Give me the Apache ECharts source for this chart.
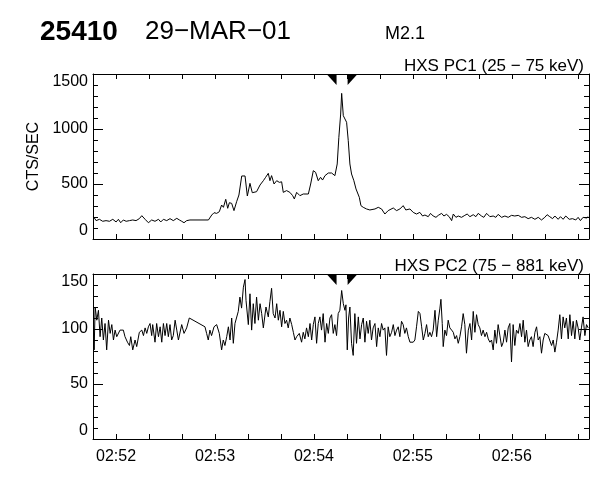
<!DOCTYPE html>
<html>
<head>
<meta charset="utf-8">
<script src="https://cdn.jsdelivr.net/npm/echarts@6/dist/echarts.min.js"></script>
<style>
html,body{margin:0;padding:0;background:#fff;}
#chart{width:600px;height:480px;}
</style>
</head>
<body>
<div id="chart"></div>
<script>
// Time values are seconds after 02:52:00 UT
const timePC1 = [-13.7,-12.1,-10.1,-8.1,-6.1,-4.0,-2.0,0,1.4,2.8,4.4,6.1,8.1,10.1,12.1,14.1,15.6,17.6,19.6,21.6,23.6,25.7,27.1,28.7,30.7,32.7,34.7,36.8,38.4,39.8,41.2,42.8,44.8,56.0,56.6,58.0,59.4,61.0,62.6,64.0,65.1,66.5,67.7,68.7,70.1,71.5,73.1,74.5,76.2,78.2,79.6,81.2,82.6,85.2,87.3,89.3,90.7,92.3,93.3,94.3,95.8,97.4,99.0,100.4,101.4,103.4,105.4,107.1,108.1,109.5,111.5,113.5,116.6,118.0,119.6,121.0,122.6,124.0,125.2,126.7,128.7,130.7,132.7,134.1,135.1,136.2,136.8,137.8,138.8,139.8,140.8,141.8,142.8,144.2,145.5,146.5,147.5,148.5,149.9,151.9,153.9,157.0,159.0,161.0,163.0,165.0,168.1,170.1,172.1,174.1,175.7,178.2,180.2,182.2,184.2,185.9,187.3,189.3,190.7,192.3,194.0,195.4,197.4,198.8,200.4,202.0,203.5,204.5,206.1,207.5,209.5,211.5,212.9,214.6,216.6,218.2,219.6,221.6,223.0,224.7,226.7,228.7,230.3,231.7,233.8,235.8,237.8,239.8,241.8,243.9,245.9,247.9,249.9,251.9,254.0,256.0,258.0,260.0,261.4,263.0,264.7,266.1,268.1,269.5,271.1,272.7,274.8,276.8,278.8,280.2,281.6,283.2,285.3,286.3];
const countsPC1 = [203,167,179,161,167,161,179,155,179,148,173,161,167,173,167,185,212,179,148,173,161,179,155,179,167,185,167,188,173,161,148,167,173,173,155,218,239,233,248,309,288,361,279,330,324,258,339,400,573,573,391,506,421,430,491,530,561,597,530,576,500,530,515,520,424,440,424,394,364,424,394,409,409,500,621,606,530,561,536,576,600,600,576,682,924,1136,1324,1121,1091,1061,894,682,591,530,455,470,379,303,288,273,264,273,288,273,227,258,282,258,273,303,264,273,242,227,242,209,218,203,233,209,197,215,233,209,224,203,167,227,197,209,197,215,227,203,221,203,233,209,197,233,203,209,197,224,197,209,197,215,209,215,197,203,185,197,179,197,173,197,221,203,185,209,179,203,179,209,179,185,173,197,167,197,191,203];

const timePC2 = [-13.7,-13.3,-12.7,-11.7,-10.7,-9.7,-8.7,-7.7,-6.7,-5.7,-4.6,-3.6,-2.6,-1.6,-0.6,0.4,2.4,4.4,5.4,6.9,8.1,8.9,10.1,11.5,12.5,14.1,15.6,16.6,17.6,18.6,19.6,20.6,21.6,22.2,23.6,24.6,25.7,26.7,27.7,28.7,29.7,30.7,31.7,32.7,33.7,34.7,35.8,36.8,37.8,38.8,39.8,41.2,42.8,44.4,53.9,54.9,55.9,56.9,57.9,59.4,61.0,62.6,64.0,65.0,66.0,67.1,68.1,69.1,70.1,71.1,72.1,73.1,74.1,75.1,76.1,77.2,78.2,78.8,80.2,81.2,82.2,83.2,84.2,85.2,86.3,87.3,88.3,89.3,90.9,92.3,93.3,94.3,95.3,96.4,97.4,98.4,99.4,100.4,101.4,102.4,103.4,104.4,105.4,106.5,107.5,108.5,109.5,111.1,112.5,113.5,114.5,115.5,116.6,117.6,118.6,119.6,120.6,121.6,122.6,123.6,124.6,125.6,126.7,127.7,128.7,129.7,130.7,131.7,132.7,133.7,134.7,135.7,136.8,137.8,138.8,139.4,140.2,141.0,141.8,142.8,143.8,144.8,145.8,146.9,147.9,148.9,149.9,150.9,151.9,152.9,153.9,154.9,155.9,157.0,158.0,159.0,160.0,161.0,162.0,163.0,164.0,165.0,166.0,167.1,168.1,169.1,170.1,171.1,172.1,173.1,174.1,175.1,176.1,177.2,178.2,179.2,180.2,181.2,182.2,183.3,184.3,185.3,186.3,187.3,188.3,189.3,190.3,191.3,192.3,193.4,194.4,195.4,196.4,197.0,197.8,198.4,199.4,200.4,201.4,202.4,203.5,204.5,205.5,206.5,207.5,208.5,209.5,210.5,211.5,212.5,213.6,214.6,215.6,216.6,217.6,218.6,219.6,220.6,221.6,222.6,223.7,224.7,225.7,226.7,227.7,228.7,229.7,230.7,231.7,232.7,233.8,234.8,235.8,236.8,237.8,238.8,239.8,240.8,241.8,242.8,243.9,244.9,245.9,246.9,247.9,248.9,249.9,250.9,251.9,252.9,254.0,255.0,256.0,257.0,258.0,259.0,260.0,261.0,262.0,263.0,264.1,265.1,266.1,267.1,268.1,269.1,270.1,271.1,272.1,273.1,274.2,275.2,276.2,277.2,278.2,279.2,280.2,281.2,282.2,283.2,284.3,285.3,286.3];
const countsPC2 = [99,81,120,108,117,93,110,90,105,81,108,96,104,90,99,93,99,99,93,88,85,93,81,90,84,97,99,94,101,96,102,105,94,104,88,105,93,102,88,105,94,105,93,104,90,94,108,99,90,90,104,96,101,110,102,96,90,99,94,102,104,96,81,90,85,93,102,90,110,87,105,104,116,129,119,138,145,126,104,132,99,123,105,129,108,123,114,101,120,111,125,137,114,110,123,108,117,102,116,105,108,101,110,104,97,90,93,96,88,97,91,101,93,105,90,104,111,87,105,111,99,114,88,105,96,110,113,96,104,94,114,117,135,123,117,122,81,110,120,87,76,114,87,111,91,104,110,88,107,96,108,90,101,105,84,101,93,105,99,101,76,102,93,97,104,94,99,102,93,107,104,96,101,93,88,87,88,90,102,116,114,102,90,96,104,93,97,93,99,117,93,108,119,127,105,84,99,94,108,101,99,97,91,94,87,93,102,114,104,78,99,105,90,116,97,113,104,101,94,99,93,97,91,88,90,81,99,87,104,105,84,88,99,88,101,105,70,104,85,99,96,105,93,108,88,99,84,90,93,84,97,102,90,93,78,90,96,96,94,93,85,90,79,88,99,113,91,111,101,110,91,113,94,107,91,108,101,90,101,111,94,104,101];

// Interval markers (seconds after 02:52:00)
const markerTimes = [133.7, 140.4];

// Axis ticks
const xTickSeconds = [0,20,40,60,80,100,120,140,160,180,200,220,240,260,280];
const xLabelSeconds = [0,60,120,180,240];
const xRange = [-14, 286.8];
const pc1Range = [0, 1500];
const pc2Range = [0, 150];

const headerId = '25410';
const headerDate = '29\u2212MAR\u221201';
const headerClass = 'M2.1';
const pc1Title = 'HXS PC1 (25 \u2212 75 keV)';
const pc2Title = 'HXS PC2 (75 \u2212 881 keV)';
const yName = 'CTS/SEC';

const BASE_SEC = 2 * 3600 + 52 * 60;
const FONT = 'Liberation Sans, Arial, sans-serif';

function fmtTime(v) {
  const s = Math.round(BASE_SEC + v);
  const h = Math.floor(s / 3600), m = Math.floor((s % 3600) / 60);
  return String(h).padStart(2, '0') + ':' + String(m).padStart(2, '0');
}
function zip(t, v) { return t.map((x, i) => [x, v[i]]); }

const grids = [
  { left: 93, right: 11, top: 74, height: 165 },
  { left: 93, right: 11, top: 274, height: 165 }
];

function xAxisFor(g, pos, showLabels) {
  return {
    type: 'value', gridIndex: g, position: pos, min: xRange[0], max: xRange[1],
    axisLine: { show: true, onZero: false, lineStyle: { color: '#000', width: 1 } },
    axisTick: { show: true, inside: true, length: 5, customValues: xTickSeconds, lineStyle: { color: '#000' } },
    axisLabel: { show: showLabels, customValues: xLabelSeconds, formatter: fmtTime, color: '#000', fontFamily: FONT, fontSize: 16, margin: 10 },
    splitLine: { show: false }, minorTick: { show: false }
  };
}
function yAxisFor(g, pos, range, interval, showLabels, name) {
  return {
    type: 'value', gridIndex: g, position: pos, min: range[0], max: range[1], interval: interval,
    name: name || '', nameLocation: 'middle', nameGap: 45, nameRotate: 90,
    nameTextStyle: { color: '#000', fontFamily: FONT, fontSize: 16 },
    axisLine: { show: true, onZero: false, lineStyle: { color: '#000', width: 1 } },
    axisTick: { show: true, inside: true, length: 10, lineStyle: { color: '#000' } },
    minorTick: { show: true, splitNumber: 5, length: 5, lineStyle: { color: '#000' } },
    axisLabel: { show: showLabels, formatter: v => String(v), color: '#000', fontFamily: FONT, fontSize: 16, margin: 5,
      verticalAlignMaxLabel: 'top', verticalAlignMinLabel: 'bottom' },
    splitLine: { show: false }, minorSplitLine: { show: false }
  };
}

function markers(yTop) {
  return {
    silent: true, animation: false,
    label: { show: false },
    data: [
      { coord: [markerTimes[0], yTop], symbol: 'path://M0,0 L10,0 L10,11 Z', symbolSize: [10, 11], symbolOffset: [-5, 5.5], itemStyle: { color: '#000' } },
      { coord: [markerTimes[1], yTop], symbol: 'path://M0,0 L10,0 L0,11 Z', symbolSize: [10, 11], symbolOffset: [5, 5.5], itemStyle: { color: '#000' } }
    ]
  };
}

const chart = echarts.init(document.getElementById('chart'), null, { renderer: 'canvas' });
chart.setOption({
  animation: false,
  backgroundColor: '#fff',
  grid: grids,
  xAxis: [
    xAxisFor(0, 'bottom', false), xAxisFor(0, 'top', false),
    xAxisFor(1, 'bottom', true), xAxisFor(1, 'top', false)
  ],
  yAxis: [
    yAxisFor(0, 'left', pc1Range, 500, true, yName), yAxisFor(0, 'right', pc1Range, 500, false),
    yAxisFor(1, 'left', pc2Range, 50, true), yAxisFor(1, 'right', pc2Range, 50, false)
  ],
  series: [
    { type: 'line', xAxisIndex: 0, yAxisIndex: 0, data: zip(timePC1, countsPC1), showSymbol: false, symbol: 'none',
      lineStyle: { color: '#000', width: 1 }, itemStyle: { color: '#000' }, markPoint: markers(pc1Range[1]) },
    { type: 'line', xAxisIndex: 2, yAxisIndex: 2, data: zip(timePC2, countsPC2), showSymbol: false, symbol: 'none',
      lineStyle: { color: '#000', width: 1 }, itemStyle: { color: '#000' }, markPoint: markers(pc2Range[1]) }
  ],
  graphic: [
    { type: 'text', x: 40, y: 32, style: { text: headerId, font: 'bold 28px ' + FONT, fill: '#000', align: 'left', verticalAlign: 'middle' } },
    { type: 'text', x: 145, y: 32, style: { text: headerDate, font: '26px ' + FONT, fill: '#000', align: 'left', verticalAlign: 'middle' } },
    { type: 'text', x: 385, y: 34, style: { text: headerClass, font: '18px ' + FONT, fill: '#000', align: 'left', verticalAlign: 'middle' } },
    { type: 'text', x: 584, y: 66, style: { text: pc1Title, font: '17px ' + FONT, fill: '#000', align: 'right', verticalAlign: 'middle' } },
    { type: 'text', x: 584, y: 266, style: { text: pc2Title, font: '17px ' + FONT, fill: '#000', align: 'right', verticalAlign: 'middle' } }
  ]
});
</script>
</body>
</html>
